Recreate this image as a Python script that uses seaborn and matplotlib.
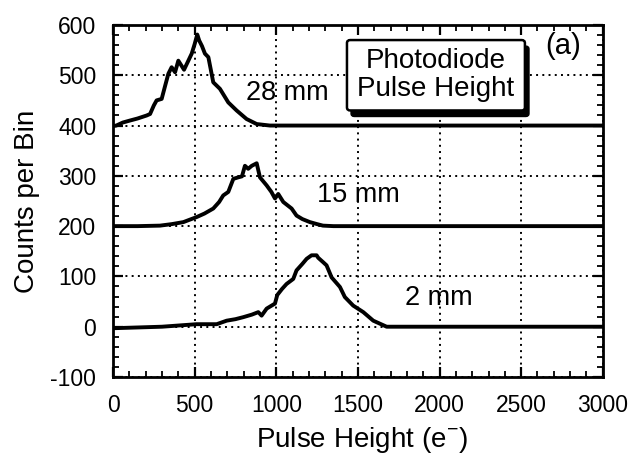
import numpy as np
import pandas as pd
import matplotlib
matplotlib.use("Agg")
import matplotlib.pyplot as plt
from matplotlib.patches import FancyBboxPatch
from matplotlib.ticker import MultipleLocator
import seaborn as sns

# pulse height spectra (offset by 0 / 200 / 400 counts)
x_28mm = [0, 20, 60, 104, 150, 206, 227, 250, 267, 298, 320, 339, 359, 380, 400, 435,
          460, 482, 500, 516, 528, 545, 563, 584, 614, 655, 706, 757, 818, 880, 961,
          1200, 1800, 2400, 3000]
y_28mm = [399, 400, 406, 410, 414, 420, 423, 440, 450, 453, 480, 503, 516, 506, 529, 511,
          528, 543, 562, 581, 569, 558, 543, 536, 486, 473, 446, 430, 413, 403, 400,
          400, 400, 400, 400]

x_15mm = [0, 150, 288, 360, 431, 512, 560, 614, 650, 675, 706, 737, 767, 790, 808, 828,
          850, 880, 900, 941, 970, 992, 1012, 1043, 1094, 1124, 1160, 1206, 1250, 1286,
          1350, 2000, 2600, 3000]
y_15mm = [200, 200, 201, 204, 208, 218, 225, 235, 248, 261, 268, 294, 297, 299, 320, 314,
          320, 325, 297, 281, 268, 255, 264, 248, 235, 221, 214, 208, 204, 201,
          200, 200, 200, 200]

x_2mm = [0, 300, 512, 635, 696, 750, 798, 850, 890, 910, 941, 992, 1006, 1035, 1063, 1104,
         1124, 1160, 1186, 1216, 1247, 1257, 1288, 1308, 1339, 1390, 1420, 1471, 1533,
         1594, 1676, 2200, 3000]
y_2mm = [-3, 0, 5, 5, 12, 15, 19, 24, 29, 22, 36, 46, 63, 75, 85, 95,
         112, 125, 135, 142, 142, 137, 128, 122, 98, 79, 59, 42, 29,
         12, 0, 0, 0]

curve_labels = ["28 mm", "15 mm", "2 mm"]
label_x = [1070, 1500, 1995]
label_y = [464, 261, 58]

sns.set_style("ticks")
plt.rcParams["font.family"] = ["Liberation Sans", "DejaVu Sans"]
plt.rcParams["axes.unicode_minus"] = False
plt.rcParams["text.color"] = "black"

fig = plt.figure(figsize=(6.44, 4.54), dpi=100)
ax = fig.add_axes([0.1755, 0.1696, 0.7605, 0.7754])

for xs, ys in [(x_28mm, y_28mm), (x_15mm, y_15mm), (x_2mm, y_2mm)]:
    df = pd.DataFrame({"x": xs, "y": ys})
    sns.lineplot(data=df, x="x", y="y", ax=ax, color="black", lw=2.8,
                 estimator=None, sort=False)

for name, lx, ly in zip(curve_labels, label_x, label_y):
    ax.text(lx, ly, name, fontsize=19.5, ha="center", va="center")

ax.set_xlim(0, 3000)
ax.set_ylim(-100, 600)
ax.xaxis.set_major_locator(MultipleLocator(500))
ax.xaxis.set_minor_locator(MultipleLocator(100))
ax.yaxis.set_major_locator(MultipleLocator(100))
ax.yaxis.set_minor_locator(MultipleLocator(20))
ax.tick_params(which="both", direction="in", top=True, right=True, color="black",
               labelcolor="black")
ax.tick_params(which="major", length=7, width=1.6, labelsize=16.5, pad=12)
ax.tick_params(which="minor", length=4, width=1.3)
ax.grid(True, which="major", linestyle=(0, (1, 2.2)), color="black", lw=1.4)
for s in ax.spines.values():
    s.set_linewidth(2)
    s.set_color("black")

ax.set_xlabel("Pulse Height (e$^{\\mathregular{-}}$)", fontsize=20, color="black")
ax.set_ylabel("Counts per Bin", fontsize=20, color="black")
ax.xaxis.set_label_coords(0.508, -0.135)
ax.yaxis.set_label_coords(-0.175, 0.5)
ax.xaxis.label.set_va("top")
ax.yaxis.label.set_va("center")

# inset title box with a drop shadow
shadow = FancyBboxPatch((1458, 418), 1090, 140, boxstyle="round,pad=0,rounding_size=20",
                        transform=ax.transData, facecolor="black", edgecolor="black",
                        zorder=4, mutation_aspect=0.3)
box = FancyBboxPatch((1433, 430), 1090, 140, boxstyle="round,pad=0,rounding_size=20",
                     transform=ax.transData, facecolor="white", edgecolor="black",
                     lw=1.8, zorder=5, mutation_aspect=0.3)
ax.add_patch(shadow)
ax.add_patch(box)
ax.text(1978, 501, "Photodiode\nPulse Height", fontsize=20, ha="center", va="center",
        linespacing=1.12, zorder=6)
ax.text(2756, 558, "(a)", fontsize=21, ha="center", va="center", zorder=6)

fig.savefig("out.png", dpi=100)
